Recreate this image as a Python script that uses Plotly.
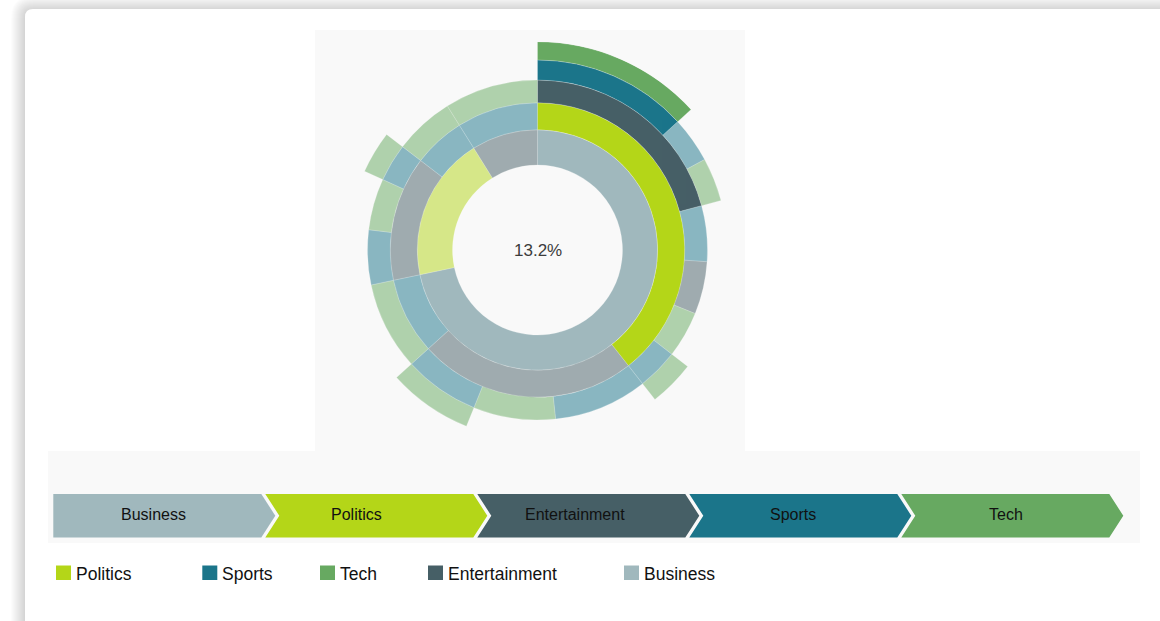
import math
import plotly.graph_objects as go

# ---------------------------------------------------------------------------
# Data: sequence hierarchy (share of all sequences, in percent)
# ---------------------------------------------------------------------------
node_ids = [
    "B", "P", "E",
    "B/P", "B/E", "B/S",
    "P/E", "P/S",
    "E/S",
    "B/P/E", "B/P/S", "B/P/E2", "B/P/T", "B/P/S2",
    "B/E/S", "B/E/T", "B/E/S2",
    "B/S/T",
    "P/E/S", "P/E/T", "P/E/S2",
    "P/S/T",
    "E/S/T",
    "B/P/E/S", "B/P/E/S2", "B/P/E/T",
    "B/P/S2/T",
    "B/E/S2/T",
    "P/E/S2/T",
    "B/P/E/S/T",
]
node_parents = [
    "", "", "",
    "B", "B", "B",
    "P", "P",
    "E",
    "B/P", "B/P", "B/P", "B/P", "B/P",
    "B/E", "B/E", "B/E",
    "B/S",
    "P/E", "P/E", "P/E",
    "P/S",
    "E/S",
    "B/P/E", "B/P/E", "B/P/E",
    "B/P/S2",
    "B/E/S2",
    "P/E/S2",
    "B/P/E/S",
]
node_labels = [
    "Business", "Politics", "Entertainment",
    "Politics", "Entertainment", "Sports",
    "Entertainment", "Sports",
    "Sports",
    "Entertainment", "Sports", "Entertainment", "Tech", "Sports",
    "Sports", "Tech", "Sports",
    "Tech",
    "Sports", "Tech", "Sports",
    "Tech",
    "Tech",
    "Sports", "Sports", "Tech",
    "Tech",
    "Tech",
    "Tech",
    "Tech",
]
node_values = [
    71.7, 19.4, 8.9,
    39.4, 23.9, 8.4,
    13.7, 5.7,
    8.9,
    20.8, 5.3, 5.0, 4.4, 3.9,
    8.9, 7.8, 7.2,
    8.4,
    5.2, 4.9, 3.6,
    5.7,
    8.9,
    13.2, 3.9, 3.7,
    3.9,
    7.2,
    3.6,
    13.2,
]

# Sequence currently selected (shown in the breadcrumb trail)
selected_path = ["B", "B/P", "B/P/E", "B/P/E/S", "B/P/E/S/T"]

legend_labels = ["Politics", "Sports", "Tech", "Entertainment", "Business"]

category_colors = {
    "Politics": "#b4d618",
    "Sports": "#1b758a",
    "Tech": "#67a961",
    "Entertainment": "#465f66",
    "Business": "#a0b8bd",
}

# ---------------------------------------------------------------------------
# Canvas helpers (pixel -> paper coordinates)
# ---------------------------------------------------------------------------
W, H = 1160, 621


def px(x):
    return x / W


def py(y):
    return 1 - y / H


FONT = "Liberation Sans, Arial, Helvetica, sans-serif"

# ---------------------------------------------------------------------------
# Partition layout: children follow each other inside the parent's span
# ---------------------------------------------------------------------------
MAX_DEPTH = 5
value_of = dict(zip(node_ids, node_values))
start_of = {}
depth_of = {}
next_free = {"": 0.0}
for nid, par in zip(node_ids, node_parents):
    s = next_free.get(par, start_of.get(par, 0.0))
    start_of[nid] = s
    next_free[par] = s + value_of[nid]
    next_free.setdefault(nid, s)
    depth_of[nid] = 1 if par == "" else depth_of[par] + 1


# ring radii grow with the square root of depth (equal-area rings)
def ring_radius(k):
    return math.sqrt(k / (MAX_DEPTH + 1))


thetas, widths, bases, thick, colors, opac = [], [], [], [], [], []
for nid, lab in zip(node_ids, node_labels):
    d = depth_of[nid]
    thetas.append((start_of[nid] + value_of[nid] / 2) * 3.6)
    widths.append(value_of[nid] * 3.6)
    bases.append(ring_radius(d))
    thick.append(ring_radius(d + 1) - ring_radius(d))
    colors.append(category_colors[lab])
    opac.append(1.0 if nid in selected_path else 0.5)

fig = go.Figure()
fig.add_trace(go.Barpolar(
    theta=thetas,
    width=widths,
    base=bases,
    r=thick,
    marker=dict(color=colors, opacity=opac,
                line=dict(color="rgba(255,255,255,0.55)", width=0.4)),
    hoverinfo="skip",
    showlegend=False,
))

# polar domain: centre (537.5, 250) px, outer radius 208 px
CX, CY, R = 537.5, 250, 208.2
fig.update_layout(
    polar=dict(
        domain=dict(x=[px(CX - R), px(CX + R)], y=[py(CY + R), py(CY - R)]),
        bgcolor="rgba(0,0,0,0)",
        radialaxis=dict(visible=False, range=[0, ring_radius(MAX_DEPTH + 1)]),
        angularaxis=dict(visible=False, rotation=90, direction="clockwise"),
        bargap=0,
    )
)

shapes = []
annotations = []


# card shadow and card
def top_left_round_rect(x0, y0, x1, y1, rad):
    return (f"M {px(x0 + rad)},{py(y0)} L {px(x1)},{py(y0)} L {px(x1)},{py(y1)} "
            f"L {px(x0)},{py(y1)} L {px(x0)},{py(y0 + rad)} "
            f"Q {px(x0)},{py(y0)} {px(x0 + rad)},{py(y0)} Z")


for i in range(14, 0, -1):
    shapes.append(dict(type="path", xref="paper", yref="paper", layer="below",
                       path=top_left_round_rect(25 - i, 10 - i, 1300, 800, 8 + i),
                       fillcolor="rgba(0,0,0,0.012)", line=dict(width=0)))
shapes.append(dict(type="path", xref="paper", yref="paper", layer="below",
                   path=top_left_round_rect(25, 9, 1300, 800, 8),
                   fillcolor="#ffffff", line=dict(width=0)))

# light panels behind the sunburst and the trail
shapes.append(dict(type="rect", xref="paper", yref="paper", layer="below",
                   x0=px(315), x1=px(745), y0=py(451), y1=py(30),
                   fillcolor="#f9f9f9", line=dict(width=0)))
shapes.append(dict(type="rect", xref="paper", yref="paper", layer="below",
                   x0=px(48), x1=px(1140), y0=py(543), y1=py(451),
                   fillcolor="#f9f9f9", line=dict(width=0)))

# centre percentage
annotations.append(dict(x=px(CX), y=py(CY), xref="paper", yref="paper",
                        text=f"{value_of[selected_path[-1]]:.1f}%",
                        showarrow=False, xanchor="center", yanchor="middle",
                        font=dict(family=FONT, size=17, color="#3c3c3c")))

# breadcrumb trail
BX0, BTOP, BH, BW, BT, BSTEP = 53.3, 494, 43.5, 208, 14, 212.0
label_dx = [100, 91, 98, 104, 105]
for i, nid in enumerate(selected_path):
    x0 = BX0 + i * BSTEP
    pts = [(x0, BTOP), (x0 + BW, BTOP), (x0 + BW + BT, BTOP + BH / 2),
           (x0 + BW, BTOP + BH), (x0, BTOP + BH)]
    if i > 0:
        pts.append((x0 + BT, BTOP + BH / 2))
    path = "M " + " L ".join(f"{px(a)},{py(b)}" for a, b in pts) + " Z"
    lab = node_labels[node_ids.index(nid)]
    shapes.append(dict(type="path", xref="paper", yref="paper", path=path,
                       fillcolor=category_colors[lab], line=dict(width=0)))
    annotations.append(dict(x=px(x0 + label_dx[i]), y=py(BTOP + BH / 2 - 1.5),
                            xref="paper", yref="paper", text=lab,
                            showarrow=False, xanchor="center", yanchor="middle",
                            font=dict(family=FONT, size=16, color="#111111")))

# colour key
key_x = [56, 202.3, 320, 428, 624]
for lab, kx in zip(legend_labels, key_x):
    shapes.append(dict(type="rect", xref="paper", yref="paper",
                       x0=px(kx), x1=px(kx + 15), y0=py(580), y1=py(565.5),
                       fillcolor=category_colors[lab], line=dict(width=0)))
    annotations.append(dict(x=px(kx + 18), y=py(574), xref="paper", yref="paper",
                            text=lab, showarrow=False, xanchor="left",
                            yanchor="middle",
                            font=dict(family=FONT, size=17.5, color="#111111")))

fig.update_layout(
    width=W, height=H,
    margin=dict(l=0, r=0, t=0, b=0),
    paper_bgcolor="#ffffff",
    plot_bgcolor="#ffffff",
    shapes=shapes,
    annotations=annotations,
    showlegend=False,
)

fig.write_html("out.html", config={"displayModeBar": False})
